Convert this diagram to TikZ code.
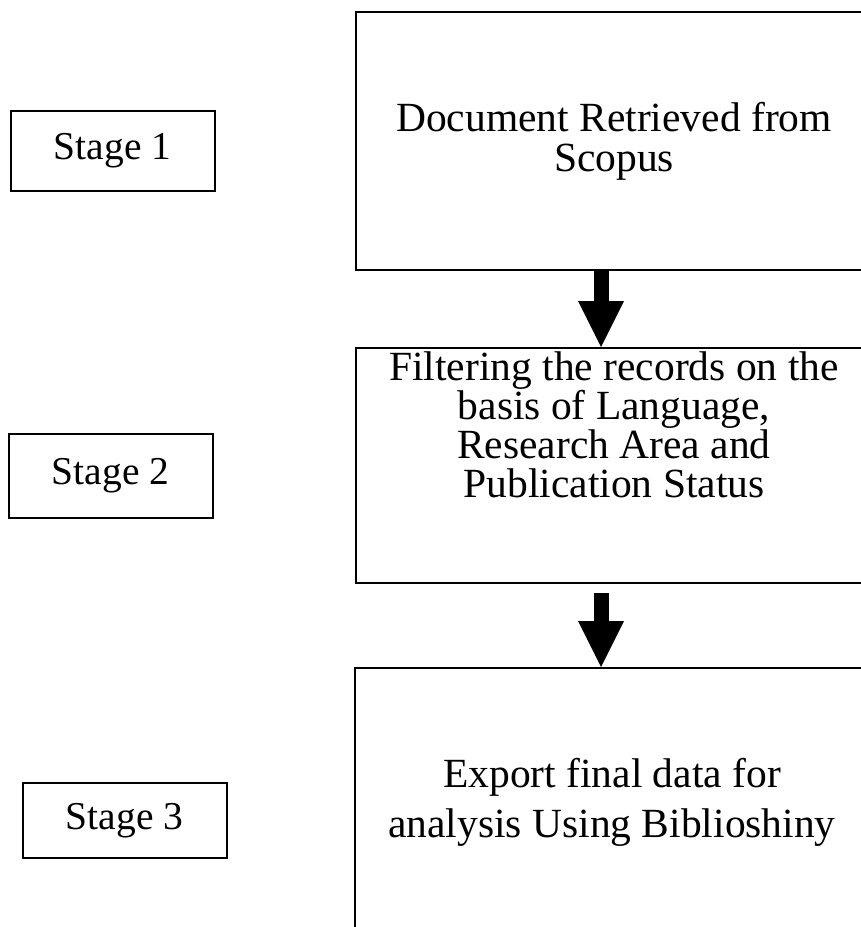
\documentclass[tikz,border=0pt]{standalone}
\usepackage{fontspec}
\setmainfont{Liberation Serif}
\usetikzlibrary{arrows.meta}
\usetikzlibrary{positioning}

\tikzset{
  stagebox/.style={draw, line width=2pt, minimum width=204pt, minimum height=80pt,
    inner sep=0pt, font=\fontsize{39.5}{44}\selectfont},
  stepframe/.style={draw, line width=2pt, inner sep=0pt},
  steptext/.style={align=center, inner sep=0pt, anchor=base, font=\fontsize{41.5}{39}\selectfont},
  blockarrow/.style={line width=15pt, -{Triangle[width=46pt, length=46pt, line width=0pt]}}
}

\begin{document}
\begin{tikzpicture}[x=1pt,y=-1pt]
  \useasboundingbox (0,0) rectangle (861,927);
  % stage labels
  \node[stagebox]                     (s1) at (112.5,150.5) {Stage 1};
  \node[stagebox, minimum height=84pt] (s2) at (110.5,476)   {Stage 2};
  \node[stagebox, minimum height=75pt] (s3) at (124.5,820.5) {Stage 3};
  % process boxes (run off the right edge)
  \node[stepframe, minimum width=524pt, minimum height=258pt] (b1) at (618,141)   {};
  \node[stepframe, minimum width=524pt, minimum height=235pt] (b2) at (618,465.5) {};
  \node[stepframe, minimum width=525pt, minimum height=292pt] (b3) at (617.5,814) {};
  \node[steptext, font=\fontsize{41.5}{40}\selectfont] (t1) at (614,171) {Document Retrieved from\\Scopus};
  \node[steptext] (t2) at (614,497) {Filtering the records on the\\basis of Language,\\Research Area and\\Publication Status};
  \node[steptext, font=\fontsize{41.5}{50}\selectfont] (t3) at (612,837) {Export final data for\\analysis Using Biblioshiny};
  % arrows
  \coordinate (ax) at (601,0);
  \draw[blockarrow] (b1.south -| ax) -- (b2.north -| ax);
  \draw[blockarrow] ([yshift=-9pt]b2.south -| ax) -- (b3.north -| ax);
\end{tikzpicture}
\end{document}
